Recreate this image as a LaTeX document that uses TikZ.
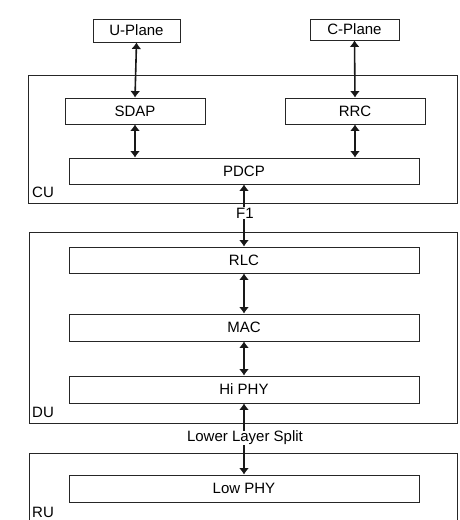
\documentclass[tikz,border=0pt]{standalone}
\usepackage{fontspec}
\setmainfont{Liberation Sans}
\usetikzlibrary{arrows.meta}
\begin{document}
\begin{tikzpicture}[x=1pt,y=-1pt,
  layerbox/.style={draw=black!85, line width=0.9pt, minimum height=26pt, inner sep=0pt, font=\fontsize{15}{17}\selectfont},
  grpbox/.style={draw=black!85, line width=0.9pt},
  lbl/.style={font=\fontsize{15}{17}\selectfont, inner sep=1pt},
  conn/.style={line width=1.6pt, black!90, {Latex[length=6.5pt,width=10pt]}-{Latex[length=6.5pt,width=10pt]}}
]
\useasboundingbox[fill=white] (0,0) rectangle (459,520);
% group boxes
\draw[grpbox] (28,75) rectangle (457,203);
\draw[grpbox] (29,232) rectangle (457,423);
\draw[grpbox] (29,530) -- (29,453) -- (457,453) -- (457,530);
\node[lbl, anchor=west] (cu) at (31,192) {CU};
\node[lbl, anchor=west] (du) at (31,412) {DU};
\node[lbl, anchor=west] (ru) at (31,512) {RU};
% boxes
\node[layerbox, minimum width=87pt, minimum height=23pt] (up) at (136.5,30.5) {U-Plane};
\node[layerbox, minimum width=89pt, minimum height=21pt] (cp) at (354.5,29.5) {C-Plane};
\node[layerbox, minimum width=140pt] (sdap) at (135,111) {SDAP};
\node[layerbox, minimum width=140pt] (rrc) at (355,111) {RRC};
\node[layerbox, minimum width=350pt] (pdcp) at (244,171) {PDCP};
\node[layerbox, minimum width=350pt] (rlc) at (244,260) {RLC};
\node[layerbox, minimum width=350pt, minimum height=27pt] (mac) at (244,327.5) {MAC};
\node[layerbox, minimum width=350pt, minimum height=27pt] (hiphy) at (244,389.5) {Hi PHY};
\node[layerbox, minimum width=350pt, minimum height=27pt] (lowphy) at (244,488.5) {Low PHY};
% connectors
\draw[conn] (up.south) -- (sdap.north);
\draw[conn] (cp.south) -- (rrc.north);
\draw[conn] (sdap.south) -- (sdap.south |- pdcp.north);
\draw[conn] (rrc.south) -- (rrc.south |- pdcp.north);
\draw[conn] (pdcp.south) -- (rlc.north);
\draw[conn] (rlc.south) -- (mac.north);
\draw[conn] (mac.south) -- (hiphy.north);
\draw[conn] (hiphy.south) -- (lowphy.north);
\node[lbl, fill=white, inner sep=0.5pt] (f1) at (245,213) {F1};
\node[lbl, fill=white, inner sep=0.5pt] (lls) at (245,438) {Lower Layer Split};
\end{tikzpicture}
\end{document}
